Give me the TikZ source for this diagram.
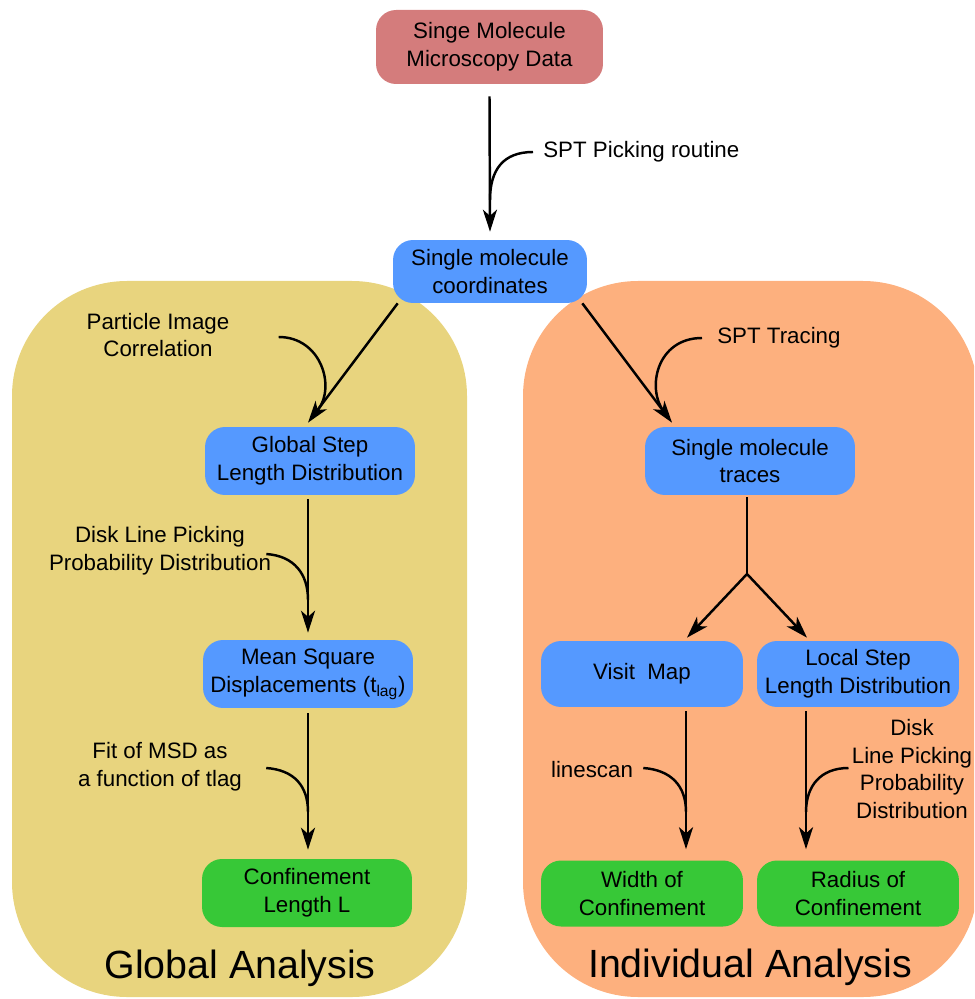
\documentclass[tikz,border=0pt]{standalone}
\usepackage{fontspec}
\setmainfont{Liberation Sans}
\usetikzlibrary{arrows.meta,positioning,calc}
\definecolor{DataRed}{RGB}{212,124,124}
\definecolor{StepBlue}{RGB}{85,153,255}
\definecolor{ResultGreen}{RGB}{55,200,55}
\definecolor{GlobalYellow}{RGB}{232,212,126}
\definecolor{LocalOrange}{RGB}{253,176,126}

\begin{document}
\begin{tikzpicture}[
  x=0.02cm, y=-0.02cm,
  font=\fontsize{12.7}{15.9}\selectfont,
  box/.style={
    rectangle,
    rounded corners=0.4cm,
    fill=StepBlue,
    draw=none,
    align=center,
    inner sep=2pt,
    minimum width=4.2cm,
    minimum height=1.36cm
  },
  smallbox/.style={box, minimum width=4.04cm, minimum height=1.32cm},
  arrow/.style={-{Stealth[length=12.5pt,width=8pt,inset=3.5pt]}, line width=1.4pt},
  wire/.style={line width=1.4pt},
  note/.style={align=center, inner sep=0pt},
  title/.style={font=\fontsize{22.4}{27}\selectfont, inner sep=0pt}
]

  \clip (0,0) rectangle (974,999);
  \fill[GlobalYellow, rounded corners=2.3cm] (12,281) rectangle (467,997);
  \fill[LocalOrange, rounded corners=2.3cm] (523,281) rectangle (978,997);

  \node[box, fill=DataRed, minimum width=4.54cm, minimum height=1.48cm] (data) at (489.5,47) {Singe Molecule\\Microscopy Data};
  \node[box, minimum width=3.88cm, minimum height=1.26cm] (coords) at (490,271.5) {Single molecule\\coordinates};

  \node[box] (glob) at (310,461) {Global Step\\Length Distribution};
  \node[box] (msd) at (308,674) {Mean Square\\Displacements (t\textsubscript{lag})};
  \node[box, fill=ResultGreen] (conf) at (307,893) {Confinement\\Length L};

  \node[box] (traces) at (750,461) {Single molecule\\traces};
  \node[smallbox] (visit) at (642,674) {Visit~~Map};
  \node[smallbox] (local) at (858,674) {Local Step\\Length Distribution};
  \node[smallbox, fill=ResultGreen] (width) at (642,893.5) {Width of\\Confinement};
  \node[smallbox, fill=ResultGreen] (radius) at (858,893.5) {Radius of\\Confinement};

  \node[note, anchor=west] (pick) at (543,152) {SPT Picking routine};
  \node[note] (pic) at (158,335) {Particle Image\\Correlation};
  \node[note] (disklp) at (160,551) {Disk Line Picking\\Probability Distribution};
  \node[note] (fit) at (160,767) {Fit of MSD as\\a function of tlag};
  \node[note, anchor=west] (tracing) at (717,338) {SPT Tracing};
  \node[note] (scan) at (592,770) {linescan};
  \node[note] (diskloc) at (912,769) {Disk\\Line Picking\\Probability\\Distribution};

  \node[title] (globtitle) at (240,968) {Global Analysis};
  \node[title] (indivtitle) at (750,967) {Individual Analysis};

  \coordinate (split) at (747,574);
  \coordinate (pickjoin) at (490,200);
  \coordinate (picjoin) at (318,410);
  \coordinate (diskjoin) at (308,600);
  \coordinate (fitjoin) at (308,812);
  \coordinate (tracejoin) at (664,412);
  \coordinate (scanjoin) at (686,812);
  \coordinate (locjoin) at (806,812);

  \draw[arrow] ($(data.south)+(0,12)$) -- ($(coords.north)+(0,-8)$);
  \draw[arrow] ($(coords.south west)+(5,0)$) -- ($(glob.north)+(-2,-4)$);
  \draw[arrow] ($(coords.south east)+(-5,0)$) -- ($(traces.north)+(-78,-4)$);
  \draw[arrow] ($(glob.south)+(-2,4)$) -- ($(msd.north)+(0,-7)$);
  \draw[arrow] ($(msd.south)+(0,5)$) -- ($(conf.north)+(1,-9)$);
  \draw[wire]  ($(traces.south)+(-3,2)$) -- (split);
  \draw[arrow] (split) -- ($(visit.north)+(45,-3)$);
  \draw[arrow] (split) -- ($(local.north)+(-51,-3)$);
  \draw[arrow] ($(visit.south)+(44,4)$) -- ($(width.north)+(44,-11)$);
  \draw[arrow] ($(local.south)+(-52,4)$) -- ($(radius.north)+(-52,-11)$);

  \draw[wire] ($(pick.west)+(-10,0)$) .. controls +(-30,0) and +(0,-30) .. (pickjoin);
  \draw[wire] ($(pic.east)+(49,2)$) .. controls +(42,0) and +(18,-24) .. (picjoin);
  \draw[wire] ($(disklp.east)+(-5,3)$) .. controls +(28,2) and +(0,-26) .. (diskjoin);
  \draw[wire] ($(fit.east)+(24,1)$) .. controls +(28,2) and +(0,-26) .. (fitjoin);
  \draw[wire] ($(tracing.west)+(-15,0)$) .. controls +(-45,0) and +(-18,-24) .. (tracejoin);
  \draw[wire] ($(scan.east)+(10,-2)$) .. controls +(28,2) and +(0,-26) .. (scanjoin);
  \draw[wire] ($(diskloc.west)+(-3,-1)$) .. controls +(-28,0) and +(0,-26) .. (locjoin);

\end{tikzpicture}
\end{document}
